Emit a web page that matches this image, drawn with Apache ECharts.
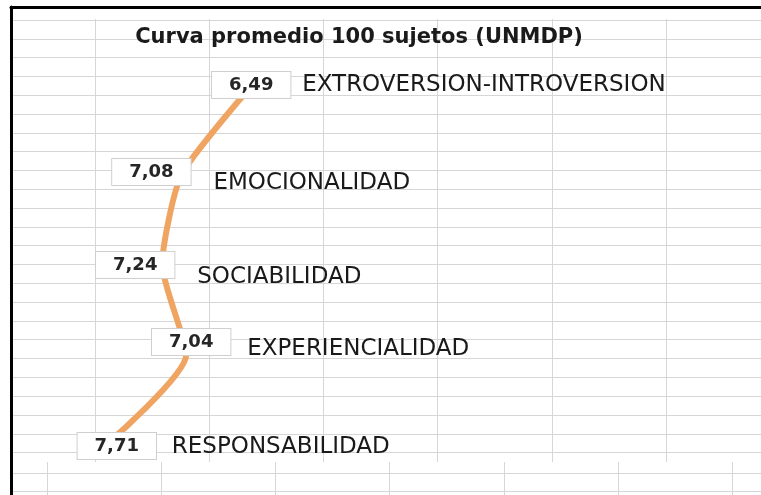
<!DOCTYPE html>
<html>
<head>
<meta charset="utf-8">
<title>Curva promedio 100 sujetos (UNMDP)</title>
<script src="https://cdn.jsdelivr.net/npm/echarts@6/dist/echarts.min.js"></script>
<style>
    html, body { margin: 0; padding: 0; background: #fff; }
    #chartmain { width: 761px; height: 495px; }
</style>
</head>
<body>
<div id="chartmain"></div>
<script>
// datos de la curva
var titulo = 'Curva promedio 100 sujetos (UNMDP)';
var factores = ['EXTROVERSION-INTROVERSION', 'EMOCIONALIDAD', 'SOCIABILIDAD', 'EXPERIENCIALIDAD', 'RESPONSABILIDAD'];
var promedios = [6.49, 7.08, 7.24, 7.04, 7.71];

// desplazamiento de las etiquetas respecto a cada punto (como quedaron en la hoja)
var cajaShift = [[-1, 0], [-30, -3], [-27, 0], [5, -13], [11, 1]];
var nombreShift = [[50, 0], [32, 8], [35, 12], [61, -6], [66, 2]];

var GRIS = '#d6d6d6';

function ejeOculto(extra) {
    var eje = {
        type: 'value',
        axisLine: { show: false },
        axisTick: { show: false },
        axisLabel: { show: false },
        splitLine: { show: false }
    };
    for (var k in extra) { eje[k] = extra[k]; }
    return eje;
}

function coma(v) {
    return v.toFixed(2).replace('.', ',');
}

var datosCaja = [];
var datosNombre = [];
for (var i = 0; i < promedios.length; i++) {
    datosCaja.push({ value: promedios[i], label: { offset: cajaShift[i] } });
    datosNombre.push({ value: promedios[i], label: { offset: nombreShift[i] } });
}

var lineaHoja = { show: true, showMaxLine: false, lineStyle: { color: GRIS, width: 1 } };
var ANCHO_CELDA = 114.2;

option = {
    animation: false,
    backgroundColor: '#fff',
    title: {
        text: titulo,
        left: 359,
        top: 27,
        textAlign: 'center',
        padding: 0,
        z: 20,
        textStyle: {
            fontFamily: 'DejaVu Sans',
            fontWeight: 'bold',
            fontSize: 21,
            color: '#1a1a1a'
        }
    },
    grid: [
        // 0: celdas de la hoja debajo del grafico (verticales)
        { left: 47, right: 0, top: 462, bottom: 0, z: 0 },
        // 1: celdas de la hoja debajo del grafico (horizontales)
        { left: 11, right: 0, bottom: 4, height: 468, z: 0 },
        // 2: fondo blanco del grafico
        { left: 11, right: 0, top: 7, bottom: 33, show: true, backgroundColor: '#fff', borderWidth: 0, z: 1 },
        // 3: lineas horizontales dentro del grafico
        { left: 11, right: 0, top: 20, height: 432.6, z: 2 },
        // 4: lineas verticales dentro del grafico
        { left: 95, right: 0, top: 19, bottom: 33, z: 2 },
        // 5: marco negro
        { left: 11, right: 0, top: 7, bottom: 0, z: 3 },
        // 6: la curva
        { left: 71, width: 360, top: 85, height: 360, z: 4 }
    ],
    xAxis: [
        ejeOculto({ gridIndex: 0, min: 0, max: (761 - 47) / ANCHO_CELDA, interval: 1, splitLine: lineaHoja, z: 0 }),
        ejeOculto({ gridIndex: 1, min: 0, max: 1, z: 0 }),
        ejeOculto({ gridIndex: 2, min: 0, max: 1, z: 1 }),
        ejeOculto({ gridIndex: 3, min: 0, max: 1, z: 2 }),
        ejeOculto({ gridIndex: 4, min: 0, max: (761 - 95) / ANCHO_CELDA, interval: 1, splitLine: lineaHoja, z: 2 }),
        ejeOculto({
            gridIndex: 5, min: 0, max: 1, position: 'top', z: 3,
            axisLine: { show: true, onZero: false, lineStyle: { color: '#000', width: 3 } }
        }),
        ejeOculto({ gridIndex: 6, min: 5, max: 8, inverse: true, z: 4 })
    ],
    yAxis: [
        ejeOculto({ gridIndex: 0, min: 0, max: 1, z: 0 }),
        ejeOculto({ gridIndex: 1, min: 0, max: 26, interval: 1, splitLine: lineaHoja, z: 0 }),
        ejeOculto({ gridIndex: 2, min: 0, max: 1, z: 1 }),
        ejeOculto({ gridIndex: 3, min: 0, max: 23, interval: 1, splitLine: { show: true, lineStyle: { color: GRIS, width: 1 } }, z: 2 }),
        ejeOculto({ gridIndex: 4, min: 0, max: 1, z: 2 }),
        ejeOculto({
            gridIndex: 5, min: 0, max: 1, position: 'left', z: 3,
            axisLine: { show: true, onZero: false, lineStyle: { color: '#000', width: 3 } }
        }),
        {
            gridIndex: 6,
            type: 'category',
            data: factores,
            inverse: true,
            boundaryGap: false,
            z: 4,
            axisLine: { show: false },
            axisTick: { show: false },
            axisLabel: { show: false },
            splitLine: { show: false }
        }
    ],
    series: [
        {
            name: 'Promedio',
            type: 'line',
            xAxisIndex: 6,
            yAxisIndex: 6,
            smooth: 0.2,
            symbol: 'circle',
            symbolSize: 1,
            z: 10,
            data: datosCaja,
            itemStyle: { color: '#f0a462' },
            lineStyle: { color: '#f0a462', width: 6, cap: 'round' },
            label: {
                show: true,
                position: 'inside',
                formatter: function (p) { return coma(p.value); },
                fontFamily: 'DejaVu Sans',
                fontWeight: 'bold',
                fontSize: 18,
                color: '#262626',
                backgroundColor: '#fff',
                borderColor: '#cfcfcf',
                borderWidth: 1,
                padding: [5, 17, 3, 17]
            }
        },
        {
            name: 'Factores',
            type: 'line',
            xAxisIndex: 6,
            yAxisIndex: 6,
            symbol: 'circle',
            symbolSize: 1,
            z: 10,
            data: datosNombre,
            itemStyle: { color: 'rgba(0,0,0,0)' },
            lineStyle: { opacity: 0 },
            label: {
                show: true,
                position: 'inside',
                align: 'left',
                verticalAlign: 'middle',
                formatter: '{b}',
                fontFamily: 'DejaVu Sans',
                fontSize: 23,
                color: '#1a1a1a'
            }
        }
    ]
};

var myChart = echarts.init(document.getElementById('chartmain'));
myChart.setOption(option);
</script>
</body>
</html>
